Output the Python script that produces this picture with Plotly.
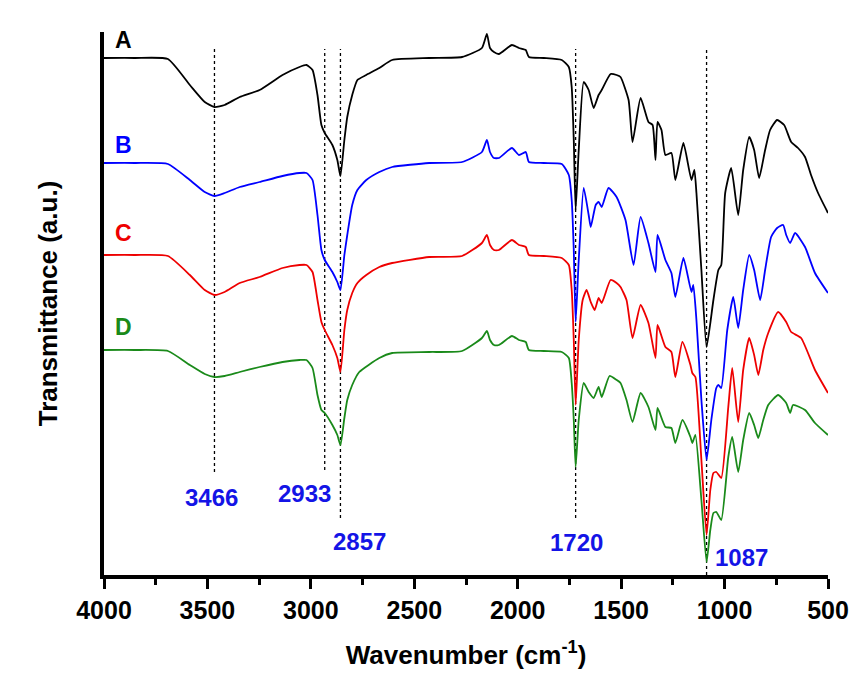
import plotly.graph_objects as go

# ---------------- data ----------------
wn_A = [4000, 3851, 3691, 3585, 3513, 3466, 3417, 3344, 3248, 3137, 3055, 3021, 2992, 2968, 2949,
        2933, 2896, 2872, 2857, 2838, 2824, 2800, 2775, 2732, 2669, 2607, 2428, 2269, 2173, 2149,
        2134, 2115, 2091, 2028, 1994, 1961, 1946, 1874, 1787, 1753, 1739, 1729, 1720, 1705, 1681,
        1657, 1633, 1609, 1594, 1551, 1522, 1503, 1464, 1445, 1406, 1368, 1348, 1334, 1324, 1305,
        1286, 1257, 1238, 1199, 1160, 1146, 1136, 1112, 1087, 1054, 1030, 1016, 997, 968, 934,
        910, 881, 857, 833, 804, 780, 746, 712, 678, 645, 611, 582, 548, 500]
t_A = [517, 517, 516, 490, 473, 468, 470, 478, 485, 500, 508, 510, 505, 480, 450,
       442, 430, 415, 399, 435, 458, 480, 495, 500, 507, 515, 517, 518, 527, 541,
       527, 523, 521, 530, 527, 525, 518, 517, 515, 508, 488, 435, 365, 425, 493,
       485, 467, 480, 485, 501, 500, 498, 475, 433, 477, 453, 450, 415, 453, 445,
       420, 422, 395, 432, 395, 405, 382, 305, 228, 275, 305, 310, 382, 407, 360,
       405, 438, 425, 397, 425, 445, 455, 450, 433, 427, 418, 400, 382, 362]

wn_B = [4000, 3851, 3691, 3585, 3513, 3466, 3417, 3344, 3248, 3137, 3055, 3021, 2992, 2968, 2949,
        2933, 2896, 2872, 2857, 2838, 2824, 2800, 2775, 2732, 2669, 2607, 2428, 2269, 2173, 2149,
        2134, 2115, 2091, 2028, 1994, 1961, 1946, 1874, 1787, 1753, 1739, 1729, 1720, 1705, 1681,
        1657, 1647, 1623, 1609, 1594, 1561, 1522, 1479, 1440, 1406, 1368, 1334, 1324, 1286, 1257,
        1238, 1199, 1160, 1151, 1136, 1112, 1087, 1064, 1040, 1030, 1016, 987, 958, 934, 910,
        881, 857, 828, 804, 775, 746, 717, 702, 683, 659, 611, 563, 500]
t_B = [412, 412, 411, 395, 383, 379, 382, 388, 393, 399, 402, 402, 395, 360, 325,
       315, 303, 293, 285, 320, 340, 370, 385, 395, 403, 408, 412, 413, 423, 435,
       423, 417, 417, 427, 420, 423, 413, 412, 411, 400, 375, 325, 253, 315, 387,
       360, 348, 370, 373, 368, 387, 378, 355, 310, 358, 332, 303, 340, 315, 302,
       278, 317, 283, 290, 255, 175, 115, 155, 187, 190, 187, 245, 278, 247, 285,
       320, 305, 275, 305, 338, 347, 350, 340, 332, 342, 328, 302, 282]

wn_C = [4000, 3851, 3691, 3585, 3513, 3466, 3417, 3344, 3248, 3137, 3055, 3021, 2992, 2968, 2949,
        2933, 2896, 2872, 2857, 2838, 2824, 2800, 2775, 2732, 2669, 2607, 2428, 2269, 2173, 2149,
        2134, 2115, 2091, 2028, 1994, 1961, 1946, 1874, 1787, 1753, 1739, 1729, 1720, 1705, 1686,
        1667, 1647, 1628, 1609, 1594, 1551, 1522, 1503, 1474, 1445, 1406, 1368, 1334, 1324, 1286,
        1257, 1238, 1204, 1165, 1156, 1141, 1112, 1087, 1069, 1054, 1040, 1016, 982, 963, 934,
        910, 881, 857, 837, 813, 789, 741, 702, 678, 630, 563, 500]
t_C = [320, 320, 319, 300, 285, 280, 283, 292, 298, 307, 310, 310, 303, 275, 253,
       245, 230, 217, 203, 245, 265, 282, 292, 300, 308, 312, 318, 319, 332, 340,
       330, 325, 325, 335, 330, 328, 320, 319, 317, 310, 285, 235, 170, 235, 275,
       285, 273, 265, 277, 272, 295, 292, 288, 275, 237, 270, 252, 217, 250, 228,
       223, 198, 233, 210, 202, 198, 115, 40, 85, 102, 103, 97, 168, 207, 153,
       205, 237, 220, 200, 225, 242, 263, 253, 243, 237, 205, 182]

wn_D = [4000, 3851, 3691, 3585, 3513, 3466, 3417, 3344, 3248, 3137, 3055, 3021, 2992, 2968, 2949,
        2933, 2896, 2872, 2857, 2838, 2824, 2800, 2766, 2669, 2607, 2428, 2269, 2173, 2149, 2134,
        2115, 2091, 2028, 1994, 1961, 1946, 1874, 1787, 1753, 1739, 1729, 1720, 1705, 1681, 1657,
        1633, 1609, 1594, 1556, 1522, 1503, 1474, 1445, 1406, 1368, 1334, 1324, 1286, 1257, 1238,
        1204, 1165, 1156, 1141, 1112, 1087, 1069, 1054, 1040, 1016, 982, 963, 934, 910, 881,
        857, 837, 813, 789, 741, 702, 683, 669, 611, 563, 500]
t_D = [225, 225, 224, 210, 201, 198, 199, 203, 208, 213, 215, 215, 207, 180, 165,
       162, 150, 140, 130, 157, 175, 190, 203, 217, 222, 223, 224, 237, 244, 235,
       230, 230, 239, 235, 233, 225, 224, 223, 217, 192, 155, 108, 155, 192, 183,
       177, 188, 178, 199, 195, 192, 175, 153, 182, 168, 145, 167, 148, 147, 132,
       155, 138, 132, 140, 75, 13, 45, 62, 63, 55, 118, 138, 103, 135, 162,
       150, 137, 155, 170, 180, 172, 162, 170, 165, 152, 140]

series_names = ["A", "B", "C", "D"]
peak_wn = [3466, 2933, 2857, 1720, 1087]
peak_labels = ["3466", "2933", "2857", "1720", "1087"]
x_ticks = [4000, 3500, 3000, 2500, 2000, 1500, 1000, 500]

# ---------------- styling / layout ----------------
colors = ["#000000", "#0000ff", "#ee0000", "#1a8a1a"]
FONT = "Liberation Sans, Arial, sans-serif"

fig = go.Figure()
for name, wn, t, c in zip(series_names, [wn_A, wn_B, wn_C, wn_D], [t_A, t_B, t_C, t_D], colors):
    fig.add_trace(go.Scatter(x=wn, y=t, mode="lines", name=name,
                             line=dict(color=c, width=1.8, shape="spline", smoothing=0.5),
                             showlegend=False))

# dotted guide lines (bottom end in a.u.)
line_bottom = [103, 105, 57, 57, 0]
line_top = 526
for w, yb in zip(peak_wn, line_bottom):
    fig.add_shape(type="line", xref="x", yref="y", x0=w, x1=w, y0=yb, y1=line_top,
                  line=dict(color="black", width=1.3, dash="dot"), layer="below")

# peak labels
lab_x = [3479, 3031, 2766, 1715, 919]
lab_y = [78, 82, 34, 33, 18]
for txt, lx, ly in zip(peak_labels, lab_x, lab_y):
    fig.add_annotation(x=lx, y=ly, xref="x", yref="y", text=txt, showarrow=False,
                       font=dict(family=FONT, size=24, color="#1414e6", weight="bold"))

# curve labels
name_x = 3904
name_y = [535, 430, 342, 248]
for name, ny, c in zip(series_names, name_y, colors):
    fig.add_annotation(x=name_x, y=ny, xref="x", yref="y", text=name, showarrow=False,
                       font=dict(family=FONT, size=23, color=c, weight="bold"))

fig.update_layout(
    width=861, height=694,
    margin=dict(l=104, r=31, t=32, b=119),
    paper_bgcolor="white", plot_bgcolor="white",
    font=dict(family=FONT, color="black"),
)
fig.update_xaxes(
    range=[4000, 500], tickvals=x_ticks, ticktext=[str(v) for v in x_ticks],
    showline=True, linecolor="black", linewidth=3.5, mirror=False,
    ticks="outside", ticklen=10, tickwidth=3, tickcolor="black",
    minor=dict(dtick=250, ticks="outside", ticklen=6, tickwidth=3, tickcolor="black"),
    showgrid=False, zeroline=False,
    tickfont=dict(family=FONT, size=25, color="black", weight="bold"),
    title=dict(text="Wavenumber (cm<sup>-1</sup>)", standoff=24,
               font=dict(family=FONT, size=26, color="black", weight="bold")),
)
fig.update_yaxes(
    range=[0, 543], showline=True, linecolor="black", linewidth=3.5, mirror=False,
    ticks="", showticklabels=False, showgrid=False, zeroline=False,
    title=dict(text="Transmittance (a.u.)", standoff=36,
               font=dict(family=FONT, size=26, color="black", weight="bold")),
)

fig.write_html("out.html")
